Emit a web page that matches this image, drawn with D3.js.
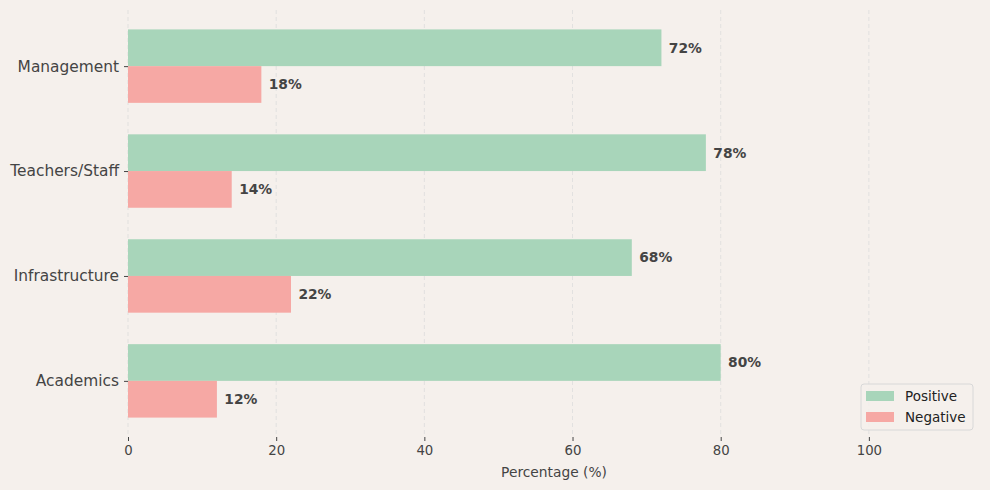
<!DOCTYPE html>
<html>
<head>
<meta charset="utf-8">
<script src="https://cdn.jsdelivr.net/npm/d3@7"></script>
<style>
  body { margin: 0; background: #f5f0ec; }
  text { font-family: "DejaVu Sans", sans-serif; }
</style>
</head>
<body>
<div id="chart"></div>
<script>
// data
var categories = ["Academics", "Infrastructure", "Teachers/Staff", "Management"];
var positive = [80, 68, 78, 72];
var negative = [12, 22, 14, 18];
var xTicks = [0, 20, 40, 60, 80, 100];

var W = 990, H = 490;
var margin = {top: 10, right: 10, bottom: 53, left: 128},
    width = W - margin.left - margin.right,
    height = H - margin.top - margin.bottom;

var svg = d3.select("#chart").append("svg")
    .attr("width", W).attr("height", H)
    .style("background", "#f5f0ec");

var g = svg.append("g")
    .attr("transform", "translate(" + margin.left + "," + margin.top + ")");

// x scale, 0..115
var x = d3.scaleLinear().domain([0, 115]).range([0, width]);
// y scale in category units, matplotlib-style padding
var y = d3.scaleLinear().domain([-0.535, 3.535]).range([height, 0]);
var barH = 0.35;

// grid lines
g.selectAll(".grid").data(xTicks).enter().append("line")
    .attr("x1", d => x(d)).attr("x2", d => x(d))
    .attr("y1", 0).attr("y2", height)
    .attr("stroke", "#dcdcdc").attr("stroke-width", 0.8)
    .attr("stroke-dasharray", "4,3");

// bars
var green = "#a8d5ba", red = "#f6a8a4";
g.selectAll(".pos").data(positive).enter().append("rect")
    .attr("x", x(0))
    .attr("y", (d, i) => y(i + barH))
    .attr("width", d => x(d) - x(0))
    .attr("height", y(0) - y(barH))
    .attr("fill", green);
g.selectAll(".neg").data(negative).enter().append("rect")
    .attr("x", x(0))
    .attr("y", (d, i) => y(i))
    .attr("width", d => x(d) - x(0))
    .attr("height", y(0) - y(barH))
    .attr("fill", red);

// value labels
g.selectAll(".plab").data(positive).enter().append("text")
    .attr("x", d => x(d + 1))
    .attr("y", (d, i) => y(i + barH / 2))
    .attr("dy", "0.35em")
    .attr("font-size", 13.8).attr("font-weight", "bold").attr("fill", "#444")
    .text(d => d + "%");
g.selectAll(".nlab").data(negative).enter().append("text")
    .attr("x", d => x(d + 1))
    .attr("y", (d, i) => y(i - barH / 2))
    .attr("dy", "0.35em")
    .attr("font-size", 13.8).attr("font-weight", "bold").attr("fill", "#444")
    .text(d => d + "%");

// x axis
var xAxis = g.append("g")
    .attr("transform", "translate(0," + height + ")")
    .call(d3.axisBottom(x).tickValues(xTicks).tickSize(4).tickPadding(5));
xAxis.select(".domain").remove();
xAxis.selectAll("line").attr("stroke", "#444");
xAxis.selectAll("text").attr("font-size", 13.3).attr("fill", "#444")
    .style("font-family", "DejaVu Sans");

// y axis
var yAxis = g.append("g")
    .call(d3.axisLeft(y).tickValues(d3.range(categories.length))
      .tickFormat(i => categories[i]).tickSize(4).tickPadding(5));
yAxis.select(".domain").remove();
yAxis.selectAll("line").attr("stroke", "#444");
yAxis.selectAll("text").attr("font-size", 15.4).attr("fill", "#444")
    .style("font-family", "DejaVu Sans");

// x label
g.append("text")
    .attr("x", x(115) / 2)
    .attr("y", height + 40)
    .attr("text-anchor", "middle")
    .attr("font-size", 13.8).attr("fill", "#444")
    .text("Percentage (%)");

// legend
var lg = svg.append("g").attr("transform", "translate(861,384)");
lg.append("rect").attr("width", 112).attr("height", 46).attr("rx", 3)
    .attr("fill", "#f5f0ec").attr("fill-opacity", 0.8)
    .attr("stroke", "#d8d8d8");
var legItems = [{label: "Positive", color: green}, {label: "Negative", color: red}];
legItems.forEach(function(d, i) {
  lg.append("rect").attr("x", 5).attr("y", 7 + i * 21)
    .attr("width", 28).attr("height", 10).attr("fill", d.color);
  lg.append("text").attr("x", 44).attr("y", 12 + i * 21).attr("dy", "0.35em")
    .attr("font-size", 13.5).attr("fill", "#222").text(d.label);
});
</script>
</body>
</html>
